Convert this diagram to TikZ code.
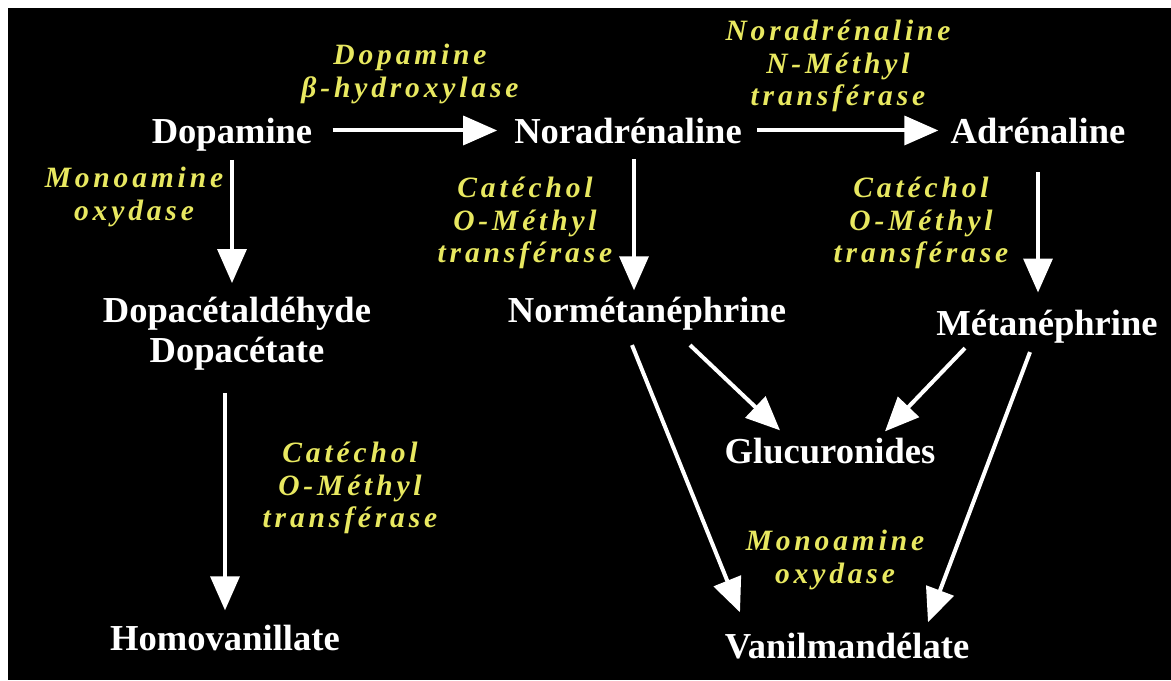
\documentclass[tikz,border=0pt]{standalone}
\usepackage{fontspec}
\setmainfont{Liberation Serif}
\newfontfamily\enzfont[LetterSpace=13]{Liberation Serif}
\usepackage{tikz}
\usetikzlibrary{arrows.meta,calc}
\definecolor{enzyellow}{RGB}{232,232,96}

\begin{document}
\begin{tikzpicture}[x=0.025cm, y=-0.025cm,
    chem/.style={text=white, inner sep=0pt, align=center, font=\fontsize{26}{28.5}\selectfont\bfseries},
    enzyme/.style={text=enzyellow, inner sep=0pt, align=center, font=\enzfont\fontsize{21}{23}\selectfont\bfseries\itshape},
    flow/.style={draw=white, line width=0.1cm, -{Triangle[length=0.85cm,width=0.72cm]}}]

    % Background
    \useasboundingbox (0,0) rectangle (1171,680);
    \fill[white] (0,0) rectangle (1171,680);
    \fill[black] (8,8) rectangle (1171,680);

    % Top row: catecholamines
    \node[chem, anchor=base] (dopamine) at (232,143) {Dopamine};
    \node[chem, anchor=base] (noradr) at (628,143) {Noradrénaline};
    \node[chem, anchor=base] (adr) at (1038,143) {Adrénaline};

    % Metabolites
    \node[chem] (dopac) at (237,334) {Dopacétaldéhyde\\Dopacétate};
    \node[chem, anchor=base] (homov) at (225,650) {Homovanillate};
    \node[chem, anchor=base] (normet) at (647,322) {Normétanéphrine};
    \node[chem, anchor=base] (metan) at (1047,335) {Métanéphrine};
    \node[chem, anchor=base] (gluc) at (830,463) {Glucuronides};
    \node[chem, anchor=base] (vanil) at (847,658) {Vanilmandélate};

    % Enzymes
    \node[enzyme] (dbh) at (410,74) {Dopamine\\β-hydroxylase};
    \node[enzyme] (pnmt) at (838,66) {Noradrénaline\\N-Méthyl\\transférase};
    \node[enzyme] (maoa) at (134,197) {Monoamine\\oxydase};
    \node[enzyme] (comta) at (525,223) {Catéchol\\O-Méthyl\\transférase};
    \node[enzyme] (comtb) at (921,223) {Catéchol\\O-Méthyl\\transférase};
    \node[enzyme] (comtc) at (350,488) {Catéchol\\O-Méthyl\\transférase};
    \node[enzyme] (maob) at (835,560) {Monoamine\\oxydase};

    % Reactions
    \coordinate (noradrout) at ($(noradr.south)+(6,0)$);
    \draw[flow, shorten <=0.5cm, shorten >=0.42cm] (dopamine.east |- noradr.west) -- (noradr.west);
    \draw[flow, shorten <=0.38cm, shorten >=0.3cm] (noradr.east) -- (adr.west);
    \draw[flow, shorten <=0.22cm, shorten >=0.35cm] (dopamine.south) -- (dopamine.south |- dopac.north);
    \draw[flow, shorten <=0.55cm, shorten >=0.35cm] (homov.north |- dopac.south) -- (homov.north);
    \draw[flow, shorten <=0.38cm, shorten >=0.15cm] (noradrout) -- (noradrout |- normet.north);
    \draw[flow, shorten <=0.72cm, shorten >=0.42cm] (adr.south) -- (adr.south |- metan.north);
    \draw[flow] ($(normet.south)+(-15,15)$) -- ($(vanil.north)+(-107,-20)$);
    \draw[flow] ($(normet.south)+(43,15)$) -- ($(gluc.north)+(-50,-7)$);
    \draw[flow] ($(metan.south)+(-82,5)$) -- ($(gluc.north)+(55,-6)$);
    \draw[flow] ($(metan.south)+(-17,9)$) -- ($(vanil.north)+(81,-10)$);
\end{tikzpicture}
\end{document}
